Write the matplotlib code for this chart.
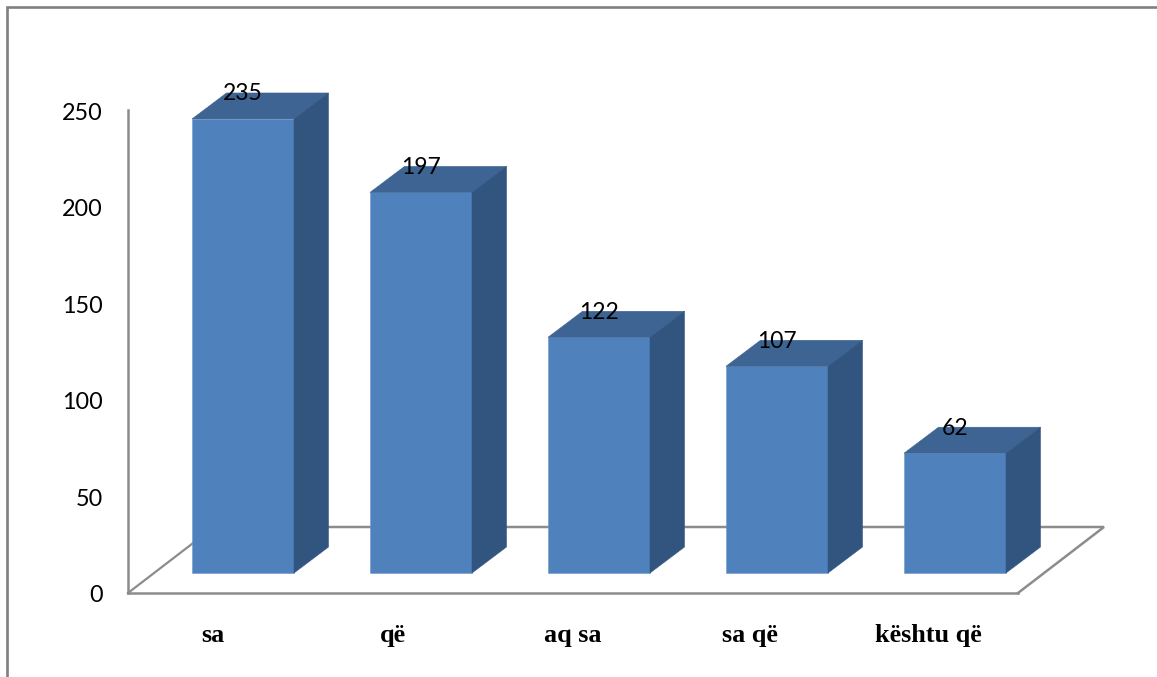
# -*- coding: utf-8 -*-
# Shtylla 3D: shpeshtesia e lidhezave

import numpy as np
import matplotlib
matplotlib.use("Agg")
import matplotlib.pyplot as plt
from matplotlib.lines import Line2D
from matplotlib.patches import Polygon
from matplotlib.transforms import ScaledTranslation

categories = ["sa", "që", "aq sa", "sa që", "kështu që"]
values = [235, 197, 122, 107, 62]
y_ticks = [0, 50, 100, 150, 200, 250]

# layout, in pixels of the 1157x677 canvas
W, H = 1157, 677
AX_L, AX_R, AX_T, AX_B = 128, 1018, 110, 593
CAT_PX = 178.0
UNIT_PX = (AX_B - AX_T) / 250.0
FIRST_BAR_PX = 243

BAR_W = 102 / CAT_PX
BAR_DX, BAR_DY = 34.5 / CAT_PX, 26 / UNIT_PX
FLOOR_DX, FLOOR_DY = 86 / CAT_PX, 66 / UNIT_PX
BASE = 20 / UNIT_PX
LABEL_UP = 25 / UNIT_PX
label_shift = [-0.17, -0.157, -0.146, -0.152, -0.152]

FRONT = "#4F81BD"
TOP = "#3E6493"
SIDE = "#325580"
GREY = "#8C8C8C"

fig = plt.figure(figsize=(W / 100, H / 100), dpi=100, facecolor="white")
ax = fig.add_axes([AX_L / W, 1 - AX_B / H, (AX_R - AX_L) / W, (AX_B - AX_T) / H])
x = np.arange(len(values), dtype=float)
x0 = (AX_L - FIRST_BAR_PX) / CAT_PX
ax.set_xlim(x0, x0 + 5)
ax.set_ylim(0, 250)
ax.patch.set_visible(False)

for s in ["top", "right"]:
    ax.spines[s].set_visible(False)
for s in ["left", "bottom"]:
    ax.spines[s].set_color(GREY)
    ax.spines[s].set_linewidth(1.8)

ax.tick_params(axis="y", length=0, pad=18)
ax.set_yticks(y_ticks)
ax.set_yticklabels([str(t) for t in y_ticks], fontfamily="Lato", fontsize=16.8, color="black")
nudge = ScaledTranslation(0, -1 / 100, fig.dpi_scale_trans)
for lab in ax.get_yticklabels():
    lab.set_transform(lab.get_transform() + nudge)

ax.tick_params(axis="x", length=0, pad=22)
ax.set_xticks(x + np.array(label_shift))
ax.set_xticklabels(categories, fontfamily="Liberation Serif", fontweight="bold", fontsize=18.8)

# floor parallelogram
x1 = x0 + 5
ax.plot([x0, x0 + FLOOR_DX], [0, FLOOR_DY], color=GREY, lw=1.6, clip_on=False, zorder=1)
ax.plot([x0 + FLOOR_DX, x1 + FLOOR_DX, x1], [FLOOR_DY, FLOOR_DY, 0], color=GREY, lw=1.8,
        clip_on=False, zorder=1, solid_joinstyle="miter")

# bars: front face, then the top and side faces
ax.bar(x, values, width=BAR_W, bottom=BASE, color=FRONT, edgecolor="#6C98CC", linewidth=0.4,
       clip_on=False, zorder=3)
for xi, v in zip(x, values):
    l, r = xi - BAR_W / 2, xi + BAR_W / 2
    top = v + BASE
    ax.add_patch(Polygon([(l, top), (r, top), (r + BAR_DX, top + BAR_DY), (l + BAR_DX, top + BAR_DY)],
                         closed=True, facecolor=TOP, edgecolor=TOP, lw=0.4, clip_on=False, zorder=3))
    ax.add_patch(Polygon([(r, BASE), (r + BAR_DX, BASE + BAR_DY), (r + BAR_DX, top + BAR_DY), (r, top)],
                         closed=True, facecolor=SIDE, edgecolor=SIDE, lw=0.4, clip_on=False, zorder=3))
    ax.text(xi, top + LABEL_UP, str(v), ha="center", va="center", fontfamily="Lato",
            fontsize=16.5, color="black", zorder=4, clip_on=False)

# outer chart border, open toward the right and the bottom
fig.add_artist(Line2D([7 / W, 7 / W, 1], [0, 1 - 7 / H, 1 - 7 / H], color="#808080", lw=1.9,
                      solid_joinstyle="miter"))

fig.savefig("out.png", dpi=100)
